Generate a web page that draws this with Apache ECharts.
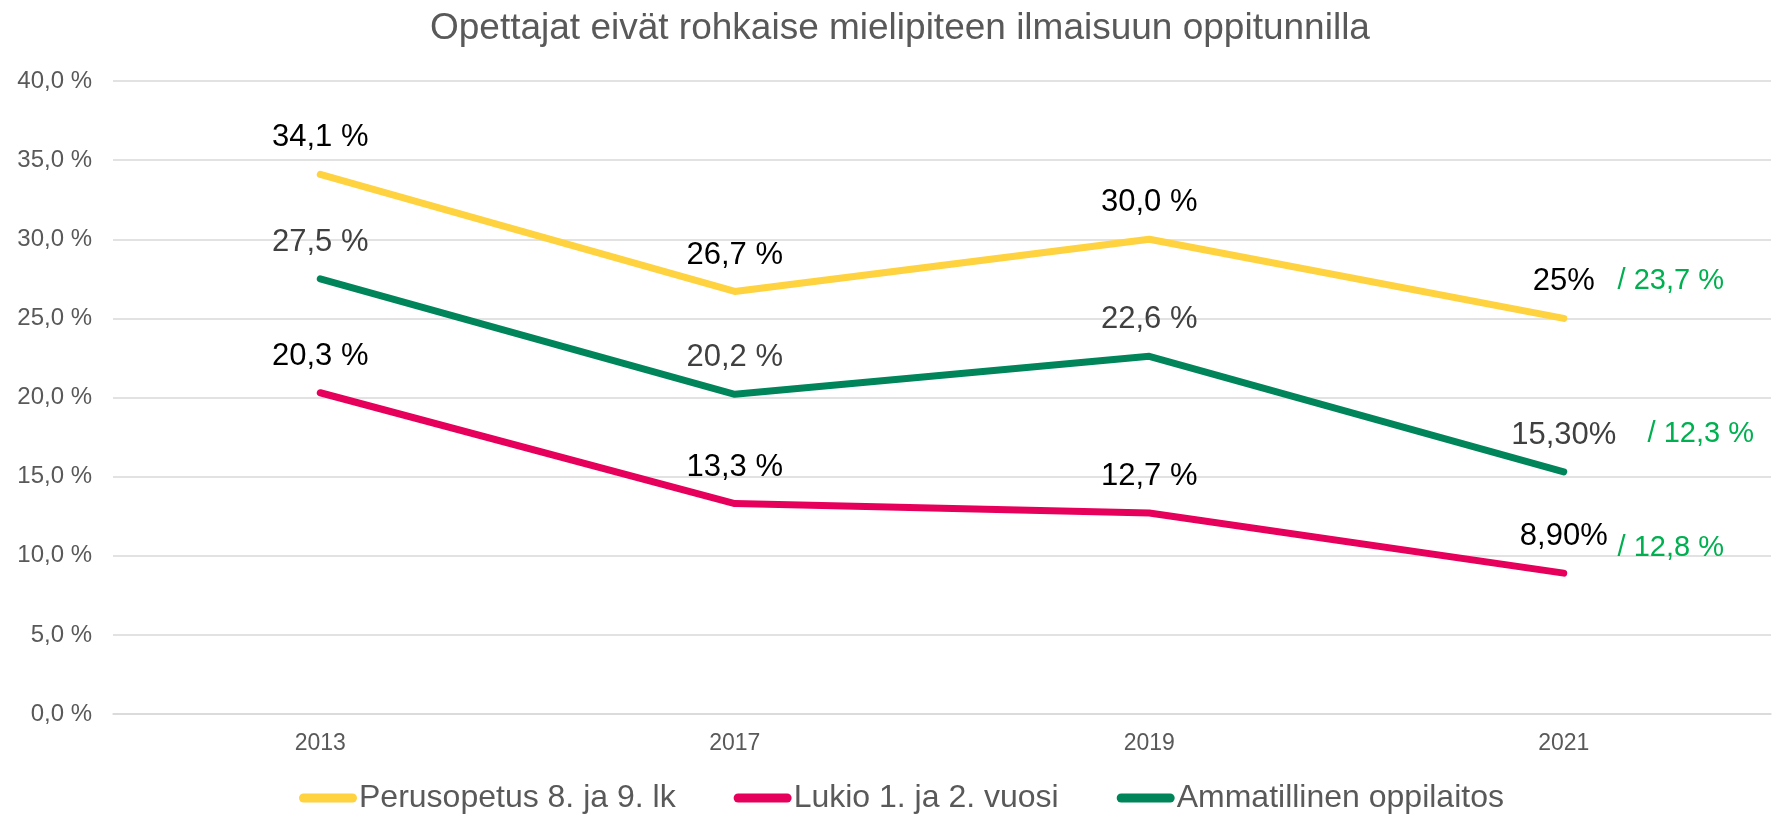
<!DOCTYPE html>
<html>
<head>
<meta charset="utf-8">
<title>Opettajat eivät rohkaise mielipiteen ilmaisuun oppitunnilla</title>
<script src="https://cdn.jsdelivr.net/npm/echarts@6/dist/echarts.min.js"></script>
<style>
  html, body { margin: 0; padding: 0; background: #ffffff; }
  #chart { width: 1783px; height: 817px; }
</style>
</head>
<body>
<div id="chart"></div>
<script>
// Survey years
const years = ['2013', '2017', '2019', '2021'];

// Share of students (%) per school level
const perusopetus = [34.1, 26.7, 30.0, 25.0];
const lukio = [20.3, 13.3, 12.7, 8.9];
const ammatillinen = [27.5, 20.2, 22.6, 15.3];

// Value labels as written on the chart
const perusopetusLabels = ['34,1 %', '26,7 %', '30,0 %', '25%'];
const lukioLabels = ['20,3 %', '13,3 %', '12,7 %', '8,90%'];
const ammatillinenLabels = ['27,5 %', '20,2 %', '22,6 %', '15,30%'];

// Comparison figures shown next to the 2021 values
const perusopetusNote = '/ 23,7 %';
const ammatillinenNote = '/ 12,3 %';
const lukioNote = '/ 12,8 %';

// Y axis tick labels
const yTicks = ['0,0 %', '5,0 %', '10,0 %', '15,0 %', '20,0 %', '25,0 %', '30,0 %', '35,0 %', '40,0 %'];

const FONT = '"Liberation Sans", Arial, sans-serif';

const legendIcon = 'path://M4.5,0 H53.5 A4.5,4.5 0 0 1 53.5,9 H4.5 A4.5,4.5 0 0 1 4.5,0 Z';

function lineSeries(name, values, labels, color, labelColor, note, noteOffset) {
  return {
    name: name,
    type: 'line',
    data: values,
    symbol: 'circle',
    symbolSize: 2,
    showSymbol: true,
    itemStyle: { color: color },
    lineStyle: { color: color, width: 7, cap: 'round', join: 'round' },
    label: {
      show: true,
      position: 'top',
      distance: 20,
      fontFamily: FONT,
      fontSize: 31,
      color: labelColor,
      formatter: function (p) { return labels[p.dataIndex]; }
    },
    emphasis: { disabled: true },
    markPoint: {
      symbol: 'circle',
      symbolSize: 1,
      itemStyle: { color: 'rgba(0,0,0,0)' },
      silent: true,
      label: {
        show: true,
        position: 'inside',
        offset: noteOffset,
        fontFamily: FONT,
        fontSize: 29,
        color: '#00B050',
        formatter: note
      },
      data: [{ coord: [years.length - 1, values[values.length - 1]] }]
    },
    z: 3
  };
}

const chart = echarts.init(document.getElementById('chart'), null, { renderer: 'canvas' });

chart.setOption({
  animation: false,
  backgroundColor: '#ffffff',
  title: {
    text: 'Opettajat eivät rohkaise mielipiteen ilmaisuun oppitunnilla',
    left: 425,
    top: 5,
    textStyle: {
      fontFamily: FONT,
      fontSize: 37,
      fontWeight: 'normal',
      color: '#595959'
    }
  },
  legend: {
    top: 777,
    left: 294,
    itemWidth: 58,
    itemHeight: 9,
    itemGap: 58,
    icon: legendIcon,
    textStyle: {
      fontFamily: FONT,
      fontSize: 32,
      color: '#595959',
      padding: [0, 0, 0, -3]
    },
    data: ['Perusopetus 8. ja 9. lk', 'Lukio 1. ja 2. vuosi', 'Ammatillinen oppilaitos']
  },
  grid: {
    left: 113,
    right: 12,
    top: 81,
    bottom: 103,
    containLabel: false
  },
  xAxis: {
    type: 'category',
    data: years,
    boundaryGap: true,
    axisLine: { show: true, lineStyle: { color: '#d9d9d9', width: 1.5 } },
    axisTick: { show: false },
    axisLabel: {
      fontFamily: FONT,
      fontSize: 23,
      color: '#595959',
      margin: 18
    }
  },
  yAxis: {
    type: 'value',
    min: 0,
    max: 40,
    interval: 5,
    axisLine: { show: false },
    axisTick: { show: false },
    splitLine: { lineStyle: { color: '#d9d9d9', width: 1.5 } },
    axisLabel: {
      fontFamily: FONT,
      fontSize: 24,
      color: '#595959',
      margin: 21,
      formatter: function (v) { return yTicks[Math.round(v / 5)]; }
    }
  },
  series: [
    lineSeries('Perusopetus 8. ja 9. lk', perusopetus, perusopetusLabels, '#FFD23F', '#000000', perusopetusNote, [107, -37]),
    lineSeries('Lukio 1. ja 2. vuosi', lukio, lukioLabels, '#E6005C', '#000000', lukioNote, [107, -25]),
    lineSeries('Ammatillinen oppilaitos', ammatillinen, ammatillinenLabels, '#00855A', '#404040', ammatillinenNote, [137, -38])
  ]
});
</script>
</body>
</html>
